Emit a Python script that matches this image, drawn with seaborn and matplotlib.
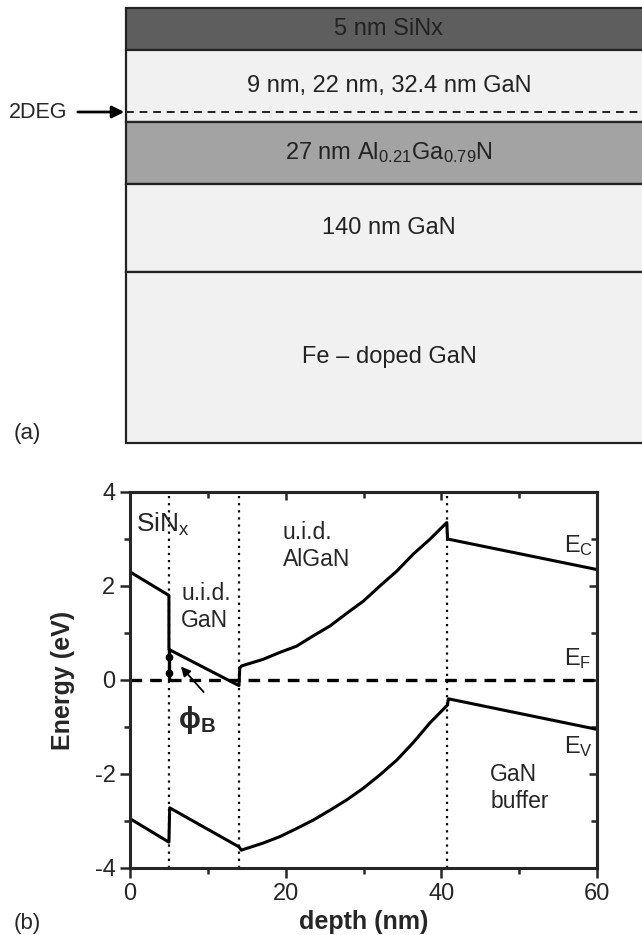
import pandas as pd
import matplotlib.pyplot as plt
from matplotlib.ticker import MultipleLocator
import seaborn as sns

# ---- panel (a): layer stack, top to bottom ----
layer_names = ['5 nm SiNx', '9 nm, 22 nm, 32.4 nm GaN',
               r'27 nm Al$_{0.21}$Ga$_{0.79}$N', '140 nm GaN', 'Fe – doped GaN']
layer_colors = ['#5e5e5e', '#f1f1f1', '#a3a3a3', '#f1f1f1', '#f1f1f1']
layer_px = [42, 72, 62, 88, 171]      # drawn thickness of each layer (px)
deg_depth_px = 104                    # 2DEG line below the top of the stack (px)

# ---- panel (b): band diagram ----
ec_depth = [0, 5, 5, 14, 14.1, 14.35, 17.1, 19.3, 21.4, 23.55, 25.7, 27.85, 30.0,
            32.1, 34.3, 36.4, 38.5, 40.7, 40.8, 60]
ec_energy = [2.3, 1.8, 0.65, -0.12, 0.25, 0.30, 0.44, 0.59, 0.72, 0.94, 1.15, 1.42, 1.68,
             2.0, 2.32, 2.68, 2.99, 3.35, 3.0, 2.35]
ev_depth = [0, 5, 5.1, 14, 14.3, 17.1, 19.3, 21.4, 23.55, 25.7, 27.85, 30.0,
            32.1, 34.3, 36.4, 38.5, 40.8, 40.9, 60]
ev_energy = [-2.95, -3.45, -2.72, -3.55, -3.62, -3.47, -3.33, -3.16, -2.98, -2.77, -2.55, -2.30,
             -2.02, -1.70, -1.33, -0.92, -0.53, -0.40, -1.05]
interfaces = [5, 14, 40.7]
fermi_level = 0.0

sns.set_style('ticks')
plt.rcParams['font.family'] = ['Liberation Sans', 'DejaVu Sans']
plt.rcParams['mathtext.fontset'] = 'custom'
plt.rcParams['mathtext.rm'] = 'Liberation Sans'
plt.rcParams['mathtext.it'] = 'Liberation Sans:italic'
plt.rcParams['mathtext.bf'] = 'Liberation Sans:bold'
plt.rcParams['axes.unicode_minus'] = False

W, H = 642, 935
fig = plt.figure(figsize=(W / 100, H / 100), dpi=100)

# overlay in pixel coordinates for panel (a) and panel letters
ov = fig.add_axes([0, 0, 1, 1])
ov.set_xlim(0, W)
ov.set_ylim(H, 0)
ov.axis('off')

left, top, right = 126, 8, 660
y = top
for name, col, h in zip(layer_names, layer_colors, layer_px):
    ov.add_patch(plt.Rectangle((left, y), right - left, h, facecolor=col,
                               edgecolor='#222222', lw=1.6, clip_on=False))
    ov.text((left + right) / 2 - 4, y + h / 2, name, ha='center', va='center',
            fontsize=17, color='#222222')
    y += h
ov.plot([left, right], [top + deg_depth_px] * 2, ls=(0, (4, 3)), color='#222222', lw=1.4)
ov.annotate('', xy=(left + 1, top + deg_depth_px), xytext=(75, top + deg_depth_px),
            arrowprops=dict(arrowstyle='-|>', color='black', lw=2, mutation_scale=18))
ov.text(9, top + deg_depth_px, '2DEG', ha='left', va='center', fontsize=15.5)
ov.text(14, 433, '(a)', ha='left', va='center', fontsize=16)
ov.text(14, 923, '(b)', ha='left', va='center', fontsize=16)

# ---- band diagram ----
ax = fig.add_axes([130 / W, 67 / H, 467 / W, 376 / H])
bands = pd.concat([
    pd.DataFrame({'depth': ec_depth, 'energy': ec_energy, 'band': 'Ec'}),
    pd.DataFrame({'depth': ev_depth, 'energy': ev_energy, 'band': 'Ev'}),
])
sns.lineplot(data=bands, x='depth', y='energy', hue='band', palette=['black', 'black'],
             sort=False, estimator=None, legend=False, lw=2.2, ax=ax)
ax.axhline(fermi_level, color='black', ls=(0, (3.5, 2.4)), lw=2.4)
for xi in interfaces:
    ax.axvline(xi, color='black', ls=(0, (1, 2.2)), lw=1.6)

# barrier height marker
ax.plot([5, 5], [fermi_level, 0.65], color='black', lw=2.4)
ax.plot([5, 5], [0.15, 0.5], 'o', color='black', ms=4.5)
ax.annotate('', xy=(6.3, 0.33), xytext=(9.7, -0.3),
            arrowprops=dict(arrowstyle='-|>', color='black', lw=1.3, mutation_scale=14))
ax.text(8.6, -0.85, r'$\mathbf{\phi_B}$', fontsize=21, ha='center', va='center')

ax.text(0.8, 3.3, r'SiN$_\mathrm{x}$', fontsize=19, ha='left', va='center')
ax.text(6.6, 1.55, 'u.i.d.\nGaN', fontsize=16.5, ha='left', va='center', linespacing=1.2)
ax.text(19.6, 2.85, 'u.i.d.\nAlGaN', fontsize=16.5, ha='left', va='center', linespacing=1.2)
ax.text(55.8, 2.85, r'E$_\mathrm{C}$', fontsize=17, ha='left', va='center')
ax.text(55.8, 0.45, r'E$_\mathrm{F}$', fontsize=17, ha='left', va='center')
ax.text(55.8, -1.42, r'E$_\mathrm{V}$', fontsize=17, ha='left', va='center')
ax.text(46.3, -2.3, 'GaN\nbuffer', fontsize=16.5, ha='left', va='center', linespacing=1.2)

ax.set_xlim(0, 60)
ax.set_ylim(-4, 4)
ax.set_xticks([0, 20, 40, 60])
ax.set_yticks([-4, -2, 0, 2, 4])
ax.xaxis.set_minor_locator(MultipleLocator(10))
ax.yaxis.set_minor_locator(MultipleLocator(1))
ax.tick_params(which='both', direction='out', top=False, right=False, width=1.8, labelsize=17)
ax.tick_params(which='major', length=7)
ax.tick_params(which='minor', length=4)
for side in ax.spines.values():
    side.set_linewidth(2.2)

top_ax = ax.secondary_xaxis('top')
top_ax.set_xticks([0, 20, 40, 60])
top_ax.xaxis.set_minor_locator(MultipleLocator(10))
top_ax.tick_params(which='both', direction='in', labeltop=False, width=1.8)
top_ax.tick_params(which='major', length=6)
top_ax.tick_params(which='minor', length=4)
right_ax = ax.secondary_yaxis('right')
right_ax.set_yticks([-4, -2, 0, 2, 4])
right_ax.yaxis.set_minor_locator(MultipleLocator(1))
right_ax.tick_params(which='both', direction='in', labelright=False, width=1.8)
right_ax.tick_params(which='major', length=6)
right_ax.tick_params(which='minor', length=4)
for sa in (top_ax, right_ax):
    for side in sa.spines.values():
        side.set_linewidth(2.2)

ax.set_xlabel('depth (nm)', fontsize=18, fontweight='bold', labelpad=4)
ax.set_ylabel('Energy (eV)', fontsize=18, fontweight='bold', labelpad=14)

fig.savefig('out.png', dpi=100)
